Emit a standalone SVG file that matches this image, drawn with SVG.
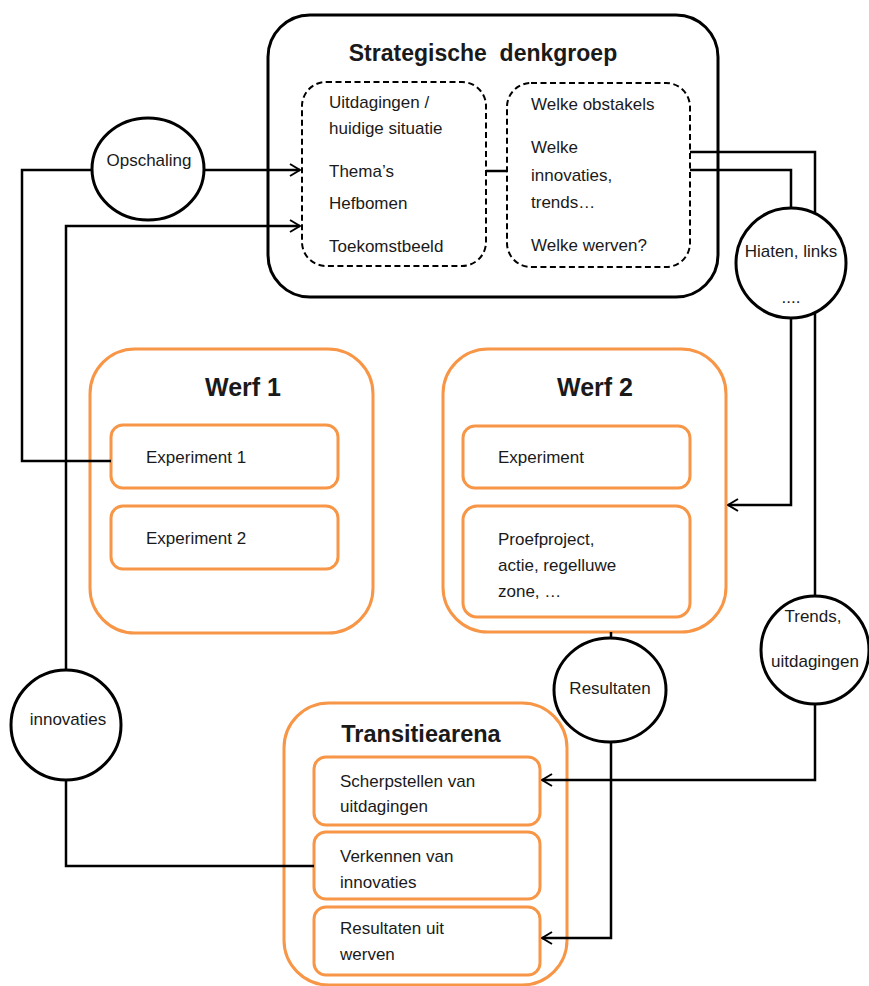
<svg xmlns="http://www.w3.org/2000/svg" width="869" height="986" viewBox="0 0 869 986">
<style>
text{font-family:"Liberation Sans",Arial,sans-serif;fill:#1a1a1a;font-size:17px}
.title{font-weight:bold;text-anchor:middle}
.mid{text-anchor:middle}
.outer{fill:none;stroke:#000;stroke-width:3}
.dash{fill:none;stroke:#000;stroke-width:2;stroke-dasharray:6 3.5}
.org{fill:none;stroke:#F79646;stroke-width:3}
.circ{fill:#fff;stroke:#000;stroke-width:3}
.conn{fill:none;stroke:#000;stroke-width:2.5}
</style>
<defs>
<marker id="arr" viewBox="0 0 12 14" refX="11" refY="7" markerWidth="12" markerHeight="14" markerUnits="userSpaceOnUse" orient="auto">
<path d="M1,1 L11,7 L1,13" fill="none" stroke="#000" stroke-width="2"/>
</marker>
</defs>
<rect width="869" height="986" fill="#fff"/>

<g id="strategische-denkgroep">
<rect class="outer" x="268" y="15" width="450" height="282" rx="42"/>
<text class="title" x="483" y="61" style="font-size:23px;white-space:pre" xml:space="preserve">Strategische  denkgroep</text>
<g id="sd-links">
<rect class="dash" x="302" y="82" width="184" height="184" rx="24"/>
<text x="329" y="108">Uitdagingen /</text>
<text x="329" y="134">huidige situatie</text>
<text x="329" y="177">Thema’s</text>
<text x="329" y="209">Hefbomen</text>
<text x="329" y="252">Toekomstbeeld</text>
</g>
<g id="sd-rechts">
<rect class="dash" x="507" y="83" width="183" height="184" rx="24"/>
<text x="531" y="110">Welke obstakels</text>
<text x="531" y="153">Welke</text>
<text x="531" y="181">innovaties,</text>
<text x="531" y="208">trends…</text>
<text x="531" y="251">Welke werven?</text>
</g>
</g>

<g id="werf1">
<rect class="org" x="90" y="349" width="283" height="284" rx="45"/>
<text class="title" x="243" y="396" style="font-size:25px">Werf 1</text>
<g id="experiment1">
<rect class="org" x="111" y="425" width="227" height="63" rx="12"/>
<text x="146" y="463">Experiment 1</text>
</g>
<g id="experiment2">
<rect class="org" x="111" y="506" width="227" height="63" rx="12"/>
<text x="146" y="544">Experiment 2</text>
</g>
</g>

<g id="werf2">
<rect class="org" x="443" y="349" width="283" height="283" rx="45"/>
<text class="title" x="595" y="396" style="font-size:25px">Werf 2</text>
<g id="experiment">
<rect class="org" x="463" y="426" width="227" height="62" rx="12"/>
<text x="498" y="463">Experiment</text>
</g>
<g id="proefproject">
<rect class="org" x="463" y="506" width="227" height="111" rx="14"/>
<text x="498" y="545">Proefproject,</text>
<text x="498" y="571">actie, regelluwe</text>
<text x="498" y="597">zone, …</text>
</g>
</g>

<g id="transitiearena">
<rect class="org" x="284" y="703" width="283" height="282" rx="45"/>
<text class="title" x="421" y="742" style="font-size:23.5px">Transitiearena</text>
<g id="scherpstellen">
<rect class="org" x="314" y="757" width="226" height="68" rx="12"/>
<text x="340" y="787">Scherpstellen van</text>
<text x="340" y="812">uitdagingen</text>
</g>
<g id="verkennen">
<rect class="org" x="314" y="832" width="226" height="67" rx="12"/>
<text x="340" y="862">Verkennen van</text>
<text x="340" y="888">innovaties</text>
</g>
<g id="resultaten-uit">
<rect class="org" x="314" y="907" width="226" height="68" rx="12"/>
<text x="340" y="934">Resultaten uit</text>
<text x="340" y="960">werven</text>
</g>
</g>

<g id="connectors">
<path class="conn" d="M486,171 H507"/>
<path class="conn" d="M111,461 H22 V170 H300" marker-end="url(#arr)"/>
<path class="conn" d="M314,866 H66 V226 H300" marker-end="url(#arr)"/>
<path class="conn" d="M690,170 H791 V505 H728" marker-end="url(#arr)"/>
<path class="conn" d="M690,152 H815 V780 H542" marker-end="url(#arr)"/>
<path class="conn" d="M611,632 V938 H542" marker-end="url(#arr)"/>
</g>

<g id="opschaling">
<ellipse class="circ" cx="148" cy="169" rx="56" ry="51"/>
<text class="mid" x="149" y="166">Opschaling</text>
</g>
<g id="hiaten">
<ellipse class="circ" cx="791" cy="263" rx="55" ry="55"/>
<text class="mid" x="791" y="257">Hiaten, links</text>
<text class="mid" x="791" y="303">....</text>
</g>
<g id="trends">
<ellipse class="circ" cx="815" cy="650" rx="54" ry="54"/>
<text class="mid" x="813" y="622">Trends,</text>
<text class="mid" x="815" y="667">uitdagingen</text>
</g>
<g id="resultaten">
<ellipse class="circ" cx="610" cy="690" rx="56" ry="52"/>
<text class="mid" x="610" y="694">Resultaten</text>
</g>
<g id="innovaties">
<ellipse class="circ" cx="66" cy="725" rx="55" ry="55"/>
<text class="mid" x="68" y="725">innovaties</text>
</g>
</svg>
